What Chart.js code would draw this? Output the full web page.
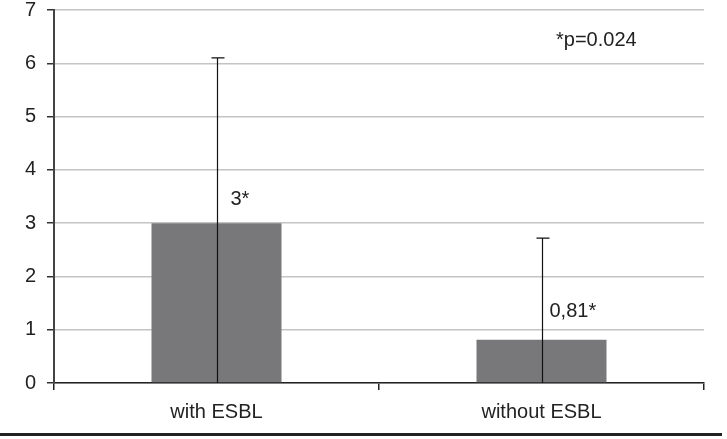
<!DOCTYPE html>
<html>
<head>
<meta charset="utf-8">
<script src="https://cdn.jsdelivr.net/npm/chart.js@4/dist/chart.umd.min.js"></script>
<style>
  html, body { margin: 0; padding: 0; background: #fff; }
  #wrap { width: 727px; height: 439px; }
</style>
</head>
<body>
<div id="wrap"><canvas id="chart" width="727" height="439"></canvas></div>
<script>
const categories = ['with ESBL', 'without ESBL'];
const values = [3, 0.81];
const errorTops = [6.1, 2.72];
const valueLabels = ['3*', '0,81*'];
const yTicks = [0, 1, 2, 3, 4, 5, 6, 7];
const note = '*p=0.024';

const FONT = '"Liberation Sans", Arial, Helvetica, sans-serif';

// error bars, value labels, p-value note and the rule under the chart
const extras = {
    id: 'extras',
    afterDatasetsDraw(chart) {
        const ctx = chart.ctx;
        const x = chart.scales.x;
        const y = chart.scales.y;
        ctx.save();
        ctx.strokeStyle = '#111';
        ctx.lineWidth = 1.2;
        errorTops.forEach(function(top, i) {
            const px = Math.round(x.getPixelForValue(i)) + 0.5;
            const y0 = y.getPixelForValue(0);
            const y1 = y.getPixelForValue(top);
            ctx.beginPath();
            ctx.moveTo(px, y0);
            ctx.lineTo(px, y1);
            ctx.moveTo(px - 6, y1);
            ctx.lineTo(px + 7, y1);
            ctx.stroke();
        });
        ctx.fillStyle = '#222';
        ctx.font = '20px ' + FONT;
        ctx.textBaseline = 'alphabetic';
        ctx.textAlign = 'left';
        const dx = [14, 8];
        const dy = [18, 23];
        valueLabels.forEach(function(txt, i) {
            const px = x.getPixelForValue(i);
            const py = y.getPixelForValue(values[i]);
            ctx.fillText(txt, px + dx[i], py - dy[i]);
        });
        ctx.fillText(note, 556, 46);
        ctx.restore();
    },
    afterDraw(chart) {
        const ctx = chart.ctx;
        ctx.save();
        ctx.fillStyle = '#222';
        ctx.fillRect(0, 433, 722, 3);
        ctx.restore();
    }
};

const ctx = document.getElementById('chart').getContext('2d');
const chart = new Chart(ctx, {
    type: 'bar',
    data: {
        labels: categories,
        datasets: [{
            data: values,
            backgroundColor: '#78787a',
            borderWidth: 0,
            barPercentage: 0.4,
            categoryPercentage: 1
        }]
    },
    options: {
        responsive: false,
        animation: false,
        layout: { padding: { top: 10, right: 23, left: 0, bottom: 0 } },
        plugins: {
            legend: { display: false },
            tooltip: { enabled: false }
        },
        scales: {
            x: {
                offset: true,
                afterFit: function(scale) {
                    scale.height = 56;
                    scale.paddingLeft = 0;
                    scale.paddingRight = 0;
                },
                grid: {
                    offset: true,
                    drawOnChartArea: true,
                    color: function(c) { return c.index === 2 ? '#bdbdbd' : 'rgba(0,0,0,0)'; },
                    lineWidth: 1.5,
                    tickColor: '#222',
                    tickLength: 7,
                    tickWidth: 1.5
                },
                border: { color: '#222', width: 1.5 },
                ticks: {
                    color: '#222',
                    font: { family: FONT, size: 20 },
                    padding: 10
                }
            },
            y: {
                min: 0,
                max: 7,
                afterFit: function(scale) {
                    scale.width = 54;
                    scale.paddingTop = 0;
                    scale.paddingBottom = 0;
                },
                afterBuildTicks: function(scale) {
                    scale.ticks = yTicks.map(function(v) { return { value: v }; });
                },
                grid: {
                    color: '#c4c4c4',
                    lineWidth: 1.5,
                    tickColor: '#333',
                    tickLength: 7,
                    tickWidth: 1.5
                },
                border: { color: '#444', width: 2 },
                ticks: {
                    color: '#222',
                    font: { family: FONT, size: 20 },
                    padding: 11
                }
            }
        }
    },
    plugins: [extras]
});
</script>
</body>
</html>
